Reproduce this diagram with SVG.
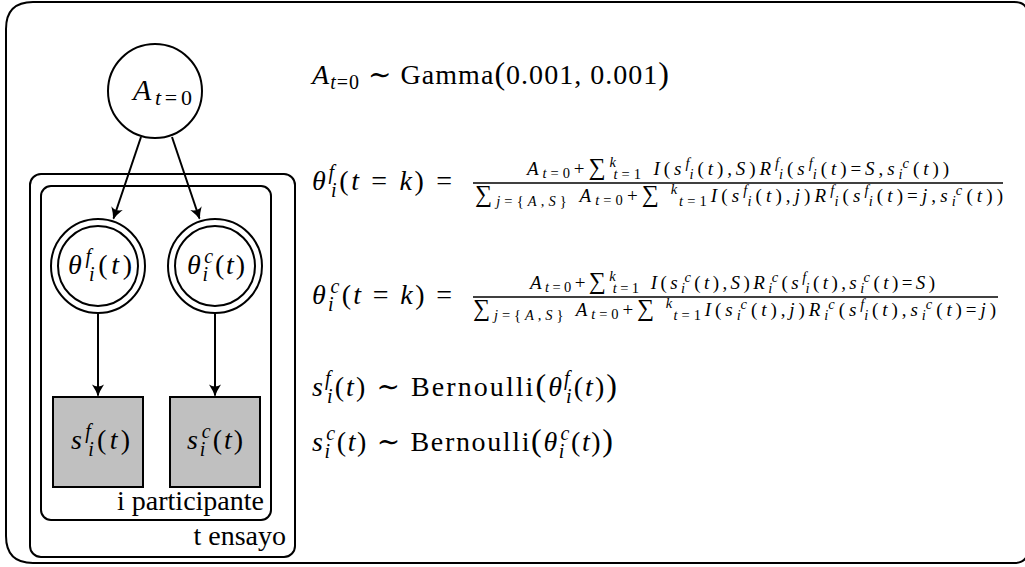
<svg xmlns="http://www.w3.org/2000/svg" width="1025" height="567" viewBox="0 0 1025 567">
<defs>
<style>
text{font-family:'Liberation Serif','DejaVu Serif','Noto Serif',serif;fill:#000}
.it{font-style:italic}
.m{font-size:28px}
.ms{font-size:20px}
.fr{font-size:19px}
.fs{font-size:14.5px}
.sum{font-size:24px}
.lb{font-size:28px}
.bp{font-size:32px}
.ln{fill:none;stroke:#000;stroke-width:2}
.node{fill:#fff;stroke:#000;stroke-width:2}
.obs{fill:#c0c0c0;stroke:#000;stroke-width:2}
.bar{stroke:#000;stroke-width:1.6}
</style>
<marker id="arr" markerUnits="userSpaceOnUse" markerWidth="16" markerHeight="16" viewBox="-14 -8 16 16" refX="0" refY="0" orient="auto">
<path d="M1,0 Q-5,-2 -11,-6 Q-7,0 -11,6 Q-5,2 1,0 Z" fill="#000"/>
</marker>
</defs>
<rect width="1025" height="567" fill="#fff"/>
<path id="frame" class="ln" stroke-width="2.3" d="M33,2 H1014 Q1028,2 1028,16 V549 Q1028,563 1014,563 H33 Q6,563 6,536 V29 Q6,2 33,2 Z"/>

<g id="plate-t">
<rect class="ln" x="30" y="174" width="265" height="383" rx="11"/>
<text class="lb" x="286" y="545" text-anchor="end">t ensayo</text>
</g>
<g id="plate-i">
<rect class="ln" x="41" y="186" width="230" height="334" rx="10"/>
<text class="lb" x="264" y="510" text-anchor="end">i participante</text>
</g>

<g id="node-A">
<circle class="node" cx="155" cy="91" r="47"/>
<text class="m" x="133" y="100" textLength="59"><tspan class="it" font-size="30">A</tspan><tspan class="it" font-size="22" dy="5">t</tspan><tspan font-size="22">=0</tspan></text>
</g>
<g id="node-theta-f">
<circle class="node" cx="98" cy="266" r="47"/>
<circle class="node" cx="98" cy="266" r="40"/>
<text class="m" x="68" y="274" textLength="64"><tspan class="it">θ</tspan><tspan class="ms it" dy="-11">f</tspan><tspan class="ms it" dx="-5.6" dy="18">i</tspan><tspan dy="-7">(</tspan><tspan class="it">t</tspan>)</text>
</g>
<g id="node-theta-c">
<circle class="node" cx="215" cy="266" r="47"/>
<circle class="node" cx="215" cy="266" r="40"/>
<text class="m" x="187" y="274" textLength="58"><tspan class="it">θ</tspan><tspan class="ms it" dy="7">i</tspan><tspan class="ms it" dx="-5.6" dy="-18">c</tspan><tspan dy="11">(</tspan><tspan class="it">t</tspan>)</text>
</g>
<g id="node-s-f">
<rect class="obs" x="53" y="397" width="90" height="90"/>
<text class="m" x="71" y="449" textLength="59"><tspan class="it">s</tspan><tspan class="ms it" dy="-11">f</tspan><tspan class="ms it" dx="-5.6" dy="18">i</tspan><tspan dy="-7">(</tspan><tspan class="it">t</tspan>)</text>
</g>
<g id="node-s-c">
<rect class="obs" x="170" y="397" width="90" height="90"/>
<text class="m" x="187" y="449" textLength="56"><tspan class="it">s</tspan><tspan class="ms it" dy="7">i</tspan><tspan class="ms it" dx="-5.6" dy="-18">c</tspan><tspan dy="11">(</tspan><tspan class="it">t</tspan>)</text>
</g>

<g id="connectors">
<line class="ln" x1="141" y1="137" x2="113.5" y2="218.5" marker-end="url(#arr)"/>
<line class="ln" x1="172" y1="137" x2="199.5" y2="218.5" marker-end="url(#arr)"/>
<line class="ln" x1="98" y1="313" x2="98" y2="395.5" marker-end="url(#arr)"/>
<line class="ln" x1="215" y1="313" x2="215" y2="395.5" marker-end="url(#arr)"/>
</g>

<g id="eq1">
<text class="m" x="312" y="84" textLength="357"><tspan class="it">A</tspan><tspan class="ms it" dy="5">t</tspan><tspan class="ms">=0</tspan><tspan dy="-5"> ∼ Gamma</tspan><tspan class="bp">(</tspan>0.001, 0.001<tspan class="bp">)</tspan></text>
</g>

<g id="eq2">
<text class="m" x="312" y="190" textLength="140"><tspan class="it">θ</tspan><tspan class="ms it" dy="-11">f</tspan><tspan class="ms it" dx="-5.6" dy="18">i</tspan><tspan dy="-7">(</tspan><tspan class="it">t</tspan> = <tspan class="it">k</tspan>) =</text>
<text class="fr" x="527" y="175" textLength="422"><tspan class="it">A</tspan><tspan class="fs it" dy="3">t</tspan><tspan class="fs">=0</tspan><tspan dy="-3">+</tspan><tspan class="sum">∑</tspan><tspan class="fs it" dy="-8">k</tspan><tspan class="fs it" dx="-6.4" dy="12">t</tspan><tspan class="fs">=1</tspan><tspan class="it" dy="-4"> I</tspan>(<tspan class="it">s</tspan><tspan class="fs it" dy="-7">f</tspan><tspan class="fs it" dx="-4" dy="11">i</tspan><tspan dy="-4">(</tspan><tspan class="it">t</tspan>),<tspan class="it">S</tspan>)<tspan class="it">R</tspan><tspan class="fs it" dy="-7">f</tspan><tspan class="fs it" dx="-4" dy="11">i</tspan><tspan dy="-4">(</tspan><tspan class="it">s</tspan><tspan class="fs it" dy="-7">f</tspan><tspan class="fs it" dx="-4" dy="11">i</tspan><tspan dy="-4">(</tspan><tspan class="it">t</tspan>)=<tspan class="it">S</tspan>,<tspan class="it">s</tspan><tspan class="fs it" dy="4">i</tspan><tspan class="fs it" dx="-4" dy="-11">c</tspan><tspan dy="7">(</tspan><tspan class="it">t</tspan>))</text>
<line class="bar" x1="473" y1="183" x2="1003" y2="183"/>
<text class="fr" x="475" y="202" textLength="528"><tspan class="sum">∑</tspan><tspan class="fs it" dy="4">j</tspan><tspan class="fs">={</tspan><tspan class="fs it">A</tspan><tspan class="fs">,</tspan><tspan class="fs it">S</tspan><tspan class="fs">}</tspan><tspan class="it" dy="-4"> A</tspan><tspan class="fs it" dy="3">t</tspan><tspan class="fs">=0</tspan><tspan dy="-3">+</tspan><tspan class="sum">∑</tspan><tspan class="fs it" dy="-8"> k</tspan><tspan class="fs it" dx="-10" dy="12"> t</tspan><tspan class="fs">=1</tspan><tspan class="it" dy="-4">I</tspan>(<tspan class="it">s</tspan><tspan class="fs it" dy="-7">f</tspan><tspan class="fs it" dx="-4" dy="11">i</tspan><tspan dy="-4">(</tspan><tspan class="it">t</tspan>),<tspan class="it">j</tspan>)<tspan class="it">R</tspan><tspan class="fs it" dy="-7">f</tspan><tspan class="fs it" dx="-4" dy="11">i</tspan><tspan dy="-4">(</tspan><tspan class="it">s</tspan><tspan class="fs it" dy="-7">f</tspan><tspan class="fs it" dx="-4" dy="11">i</tspan><tspan dy="-4">(</tspan><tspan class="it">t</tspan>)=<tspan class="it">j</tspan>,<tspan class="it">s</tspan><tspan class="fs it" dy="4">i</tspan><tspan class="fs it" dx="-4" dy="-11">c</tspan><tspan dy="7">(</tspan><tspan class="it">t</tspan>))</text>
</g>

<g id="eq3">
<text class="m" x="312" y="304" textLength="140"><tspan class="it">θ</tspan><tspan class="ms it" dy="7">i</tspan><tspan class="ms it" dx="-5.6" dy="-18">c</tspan><tspan dy="11">(</tspan><tspan class="it">t</tspan> = <tspan class="it">k</tspan>) =</text>
<text class="fr" x="530" y="289" textLength="405"><tspan class="it">A</tspan><tspan class="fs it" dy="3">t</tspan><tspan class="fs">=0</tspan><tspan dy="-3">+</tspan><tspan class="sum">∑</tspan><tspan class="fs it" dy="-8">k</tspan><tspan class="fs it" dx="-6.4" dy="12">t</tspan><tspan class="fs">=1</tspan><tspan class="it" dy="-4"> I</tspan>(<tspan class="it">s</tspan><tspan class="fs it" dy="4">i</tspan><tspan class="fs it" dx="-4" dy="-11">c</tspan><tspan dy="7">(</tspan><tspan class="it">t</tspan>),<tspan class="it">S</tspan>)<tspan class="it">R</tspan><tspan class="fs it" dy="4">i</tspan><tspan class="fs it" dx="-4" dy="-11">c</tspan><tspan dy="7">(</tspan><tspan class="it">s</tspan><tspan class="fs it" dy="-7">f</tspan><tspan class="fs it" dx="-4" dy="11">i</tspan><tspan dy="-4">(</tspan><tspan class="it">t</tspan>),<tspan class="it">s</tspan><tspan class="fs it" dy="4">i</tspan><tspan class="fs it" dx="-4" dy="-11">c</tspan><tspan dy="7">(</tspan><tspan class="it">t</tspan>)=<tspan class="it">S</tspan>)</text>
<line class="bar" x1="473" y1="297" x2="998" y2="297"/>
<text class="fr" x="473" y="316" textLength="523"><tspan class="sum">∑</tspan><tspan class="fs it" dy="4">j</tspan><tspan class="fs">={</tspan><tspan class="fs it">A</tspan><tspan class="fs">,</tspan><tspan class="fs it">S</tspan><tspan class="fs">}</tspan><tspan class="it" dy="-4"> A</tspan><tspan class="fs it" dy="3">t</tspan><tspan class="fs">=0</tspan><tspan dy="-3">+</tspan><tspan class="sum">∑</tspan><tspan class="fs it" dy="-8"> k</tspan><tspan class="fs it" dx="-10" dy="12"> t</tspan><tspan class="fs">=1</tspan><tspan class="it" dy="-4">I</tspan>(<tspan class="it">s</tspan><tspan class="fs it" dy="4">i</tspan><tspan class="fs it" dx="-4" dy="-11">c</tspan><tspan dy="7">(</tspan><tspan class="it">t</tspan>),<tspan class="it">j</tspan>)<tspan class="it">R</tspan><tspan class="fs it" dy="4">i</tspan><tspan class="fs it" dx="-4" dy="-11">c</tspan><tspan dy="7">(</tspan><tspan class="it">s</tspan><tspan class="fs it" dy="-7">f</tspan><tspan class="fs it" dx="-4" dy="11">i</tspan><tspan dy="-4">(</tspan><tspan class="it">t</tspan>),<tspan class="it">s</tspan><tspan class="fs it" dy="4">i</tspan><tspan class="fs it" dx="-4" dy="-11">c</tspan><tspan dy="7">(</tspan><tspan class="it">t</tspan>)=<tspan class="it">j</tspan>)</text>
</g>

<g id="eq4">
<text class="m" x="312" y="396" textLength="305"><tspan class="it">s</tspan><tspan class="ms it" dy="-11">f</tspan><tspan class="ms it" dx="-5.6" dy="18">i</tspan><tspan dy="-7">(</tspan><tspan class="it">t</tspan>) ∼ Bernoulli<tspan class="bp">(</tspan><tspan class="it">θ</tspan><tspan class="ms it" dy="-11">f</tspan><tspan class="ms it" dx="-5.6" dy="18">i</tspan><tspan dy="-7">(</tspan><tspan class="it">t</tspan>)<tspan class="bp">)</tspan></text>
</g>

<g id="eq5">
<text class="m" x="312" y="451" textLength="301"><tspan class="it">s</tspan><tspan class="ms it" dy="7">i</tspan><tspan class="ms it" dx="-5.6" dy="-18">c</tspan><tspan dy="11">(</tspan><tspan class="it">t</tspan>) ∼ Bernoulli<tspan class="bp">(</tspan><tspan class="it">θ</tspan><tspan class="ms it" dy="7">i</tspan><tspan class="ms it" dx="-5.6" dy="-18">c</tspan><tspan dy="11">(</tspan><tspan class="it">t</tspan>)<tspan class="bp">)</tspan></text>
</g>
</svg>
